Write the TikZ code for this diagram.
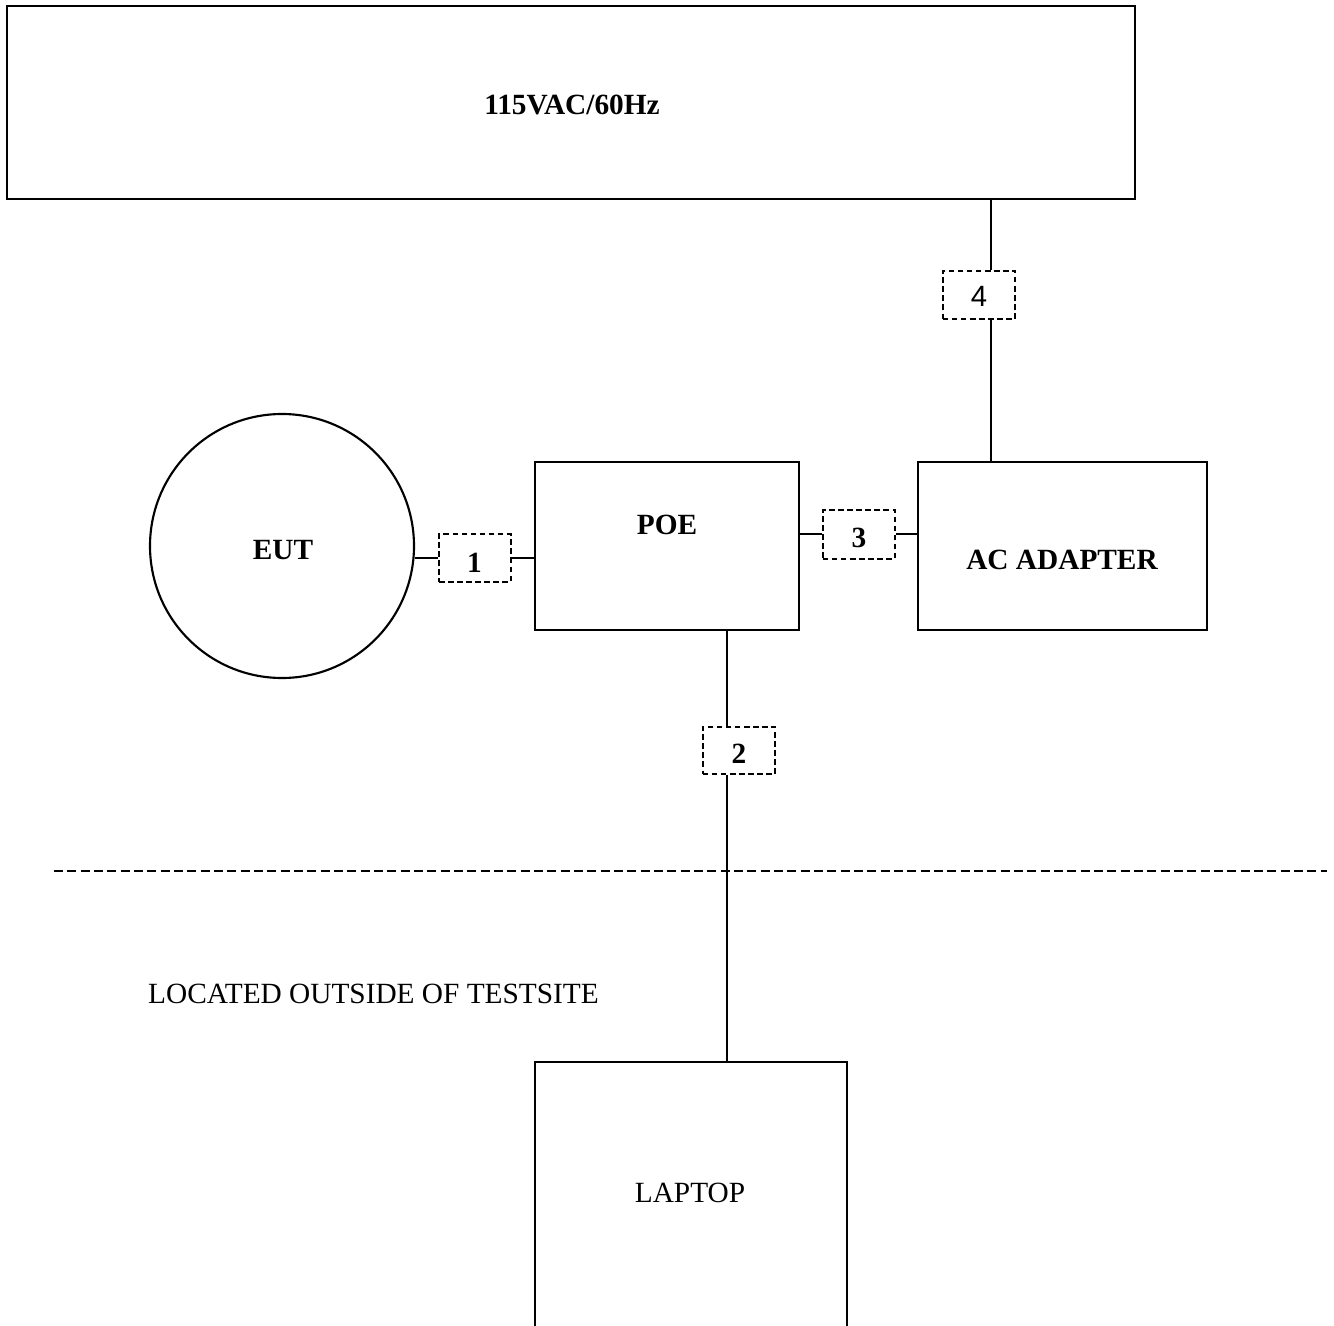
\documentclass[tikz,border=0pt]{standalone}
\usepackage{fontspec}
\setmainfont{Liberation Serif}
\newfontfamily\sansf{Liberation Sans}
\usetikzlibrary{fit}
\begin{document}
\begin{tikzpicture}[x=0.75pt,y=-0.75pt,
  boxshape/.style={draw, line width=1.6pt, inner sep=0pt, rectangle},
  portbox/.style={draw, line width=1.5pt, inner sep=0pt, rectangle, dash pattern=on 4.2pt off 2.6pt},
  wire/.style={line width=1.4pt},
  sepline/.style={line width=1.4pt, dash pattern=on 6.75pt off 3.25pt},
  bold/.style={font=\fontsize{22}{26}\selectfont\bfseries, inner sep=0pt, anchor=base},
  plain/.style={font=\fontsize{22}{26}\selectfont, inner sep=0pt, anchor=base},
  sanstxt/.style={font=\fontsize{22}{26}\selectfont\sansf, inner sep=0pt, anchor=base}]
\useasboundingbox (0,0) rectangle (1334,1326);
\clip (0,0) rectangle (1334,1326);
\fill[white] (0,0) rectangle (1334,1326);

% main boxes
\node[boxshape, fit={(7,6) (1135,199)}] (mains) {};
\node[bold] (mainstxt) at (572,115) {115VAC/60Hz};

\node[draw, circle, line width=1.6pt, minimum size=198pt, inner sep=0pt] (eut) at (282,546) {};
\node[bold] (euttxt) at (283,559) {EUT};

\node[boxshape, fit={(535,462) (799,630)}] (poe) {};
\node[bold] (poetxt) at (667,534.7) {POE};

\node[boxshape, fit={(918,462) (1207,630)}] (acad) {};
\node[bold] (acadtxt) at (1062,569) {AC ADAPTER};

\node[boxshape, fit={(535,1062) (847,1345)}] (laptop) {};
\node[plain] (laptoptxt) at (690,1202.7) {LAPTOP};

\node[plain] (outside) at (373.5,1003.3) {LOCATED OUTSIDE OF TESTSITE};

% port (cable) boxes
\node[portbox, fit={(439,534) (510.7,582)}] (b1) {};
\node[bold] (b1txt) at (474.5,572) {1};
\node[portbox, fit={(702.7,726.7) (775,774)}] (b2) {};
\node[bold] (b2txt) at (739,763) {2};
\node[portbox, fit={(822.7,510) (895,558.7)}] (b3) {};
\node[bold] (b3txt) at (859,547.7) {3};
\node[portbox, fit={(942.7,270.7) (1015,319)}] (b4) {};
\node[sanstxt] (b4txt) at (979,306.7) {4};

% connector guide coordinates
\coordinate (c2) at (727,0);
\coordinate (c4) at (991,0);
\coordinate (sepL) at (54,870.7);
\coordinate (sepR) at (1326.7,870.7);

% connectors
\draw[wire] (eut.east |- b1.west) -- (b1.west);
\draw[wire] (b1.east) -- (b1.east -| poe.west);
\draw[wire] (poe.east |- b3.west) -- (b3.west);
\draw[wire] (b3.east) -- (b3.east -| acad.west);
\draw[wire] (mains.south -| c4) -- (b4.north -| c4);
\draw[wire] (b4.south -| c4) -- (acad.north -| c4);
\draw[wire] (poe.south -| c2) -- (b2.north -| c2);
\draw[wire] (b2.south -| c2) -- (laptop.north -| c2);

% test site boundary
\draw[sepline] (sepL) -- (sepR);
\end{tikzpicture}
\end{document}
